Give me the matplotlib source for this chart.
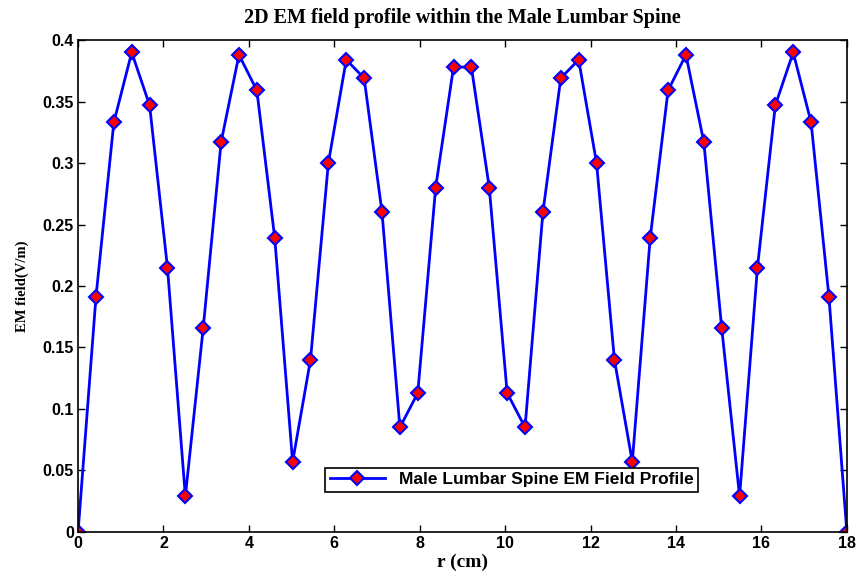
import numpy as np
import matplotlib.pyplot as plt

# Posiciones radiales (cm) y valores del campo EM (V/m)
r_cm = np.linspace(0, 18, 44)
campo_em = [0.0, 0.191, 0.333, 0.390, 0.347, 0.215, 0.029, 0.166, 0.317, 0.388,
            0.359, 0.239, 0.057, 0.140, 0.300, 0.384, 0.369, 0.260, 0.085, 0.113,
            0.280, 0.378, 0.378, 0.280, 0.113, 0.085, 0.260, 0.369, 0.384, 0.300,
            0.140, 0.057, 0.239, 0.359, 0.388, 0.317, 0.166, 0.029, 0.215, 0.347,
            0.390, 0.333, 0.191, 0.0]

x_ticks = [0, 2, 4, 6, 8, 10, 12, 14, 16, 18]
y_ticks = [0, 0.05, 0.1, 0.15, 0.2, 0.25, 0.3, 0.35, 0.4]

fig = plt.figure(figsize=(8.58, 5.72), dpi=100)
ax = fig.add_axes([0.091, 0.070, 0.896, 0.860])

ax.plot(r_cm, campo_em, color='blue', linewidth=2, marker='D', markersize=7,
        markerfacecolor='red', markeredgecolor='blue', markeredgewidth=1.5,
        label='Male Lumbar Spine EM Field Profile')

ax.set_xlim(0, 18)
ax.set_ylim(0, 0.4)
ax.set_xticks(x_ticks)
ax.set_xticklabels([str(t) for t in x_ticks])
ax.set_yticks(y_ticks)
ax.set_yticklabels(['0', '0.05', '0.1', '0.15', '0.2', '0.25', '0.3', '0.35', '0.4'])
ax.tick_params(direction='in', length=5, width=1, top=True, right=True, pad=3)
for lbl in ax.get_xticklabels() + ax.get_yticklabels():
    lbl.set_fontfamily('Liberation Sans')
    lbl.set_fontweight('bold')
    lbl.set_fontsize(11.5)
for s in ax.spines.values():
    s.set_linewidth(1.2)

ax.set_title('2D EM field profile within the Male Lumbar Spine', fontfamily='Liberation Serif',
             fontweight='bold', fontsize=14.5, pad=12)
ax.set_xlabel('r (cm)', fontfamily='Liberation Serif', fontweight='bold', fontsize=14, labelpad=2)
ax.set_ylabel('EM field(V/m)', fontfamily='Liberation Serif', fontweight='bold', fontsize=10.5, labelpad=10)

leg = ax.legend(loc='center', bbox_to_anchor=(0.564, 0.106), fancybox=False, framealpha=1,
                edgecolor='black', prop={'family': 'Liberation Sans', 'weight': 'bold', 'size': 12.5},
                handlelength=3.2, borderpad=0.25)
leg.get_frame().set_linewidth(1.2)

plt.savefig('out.png')
